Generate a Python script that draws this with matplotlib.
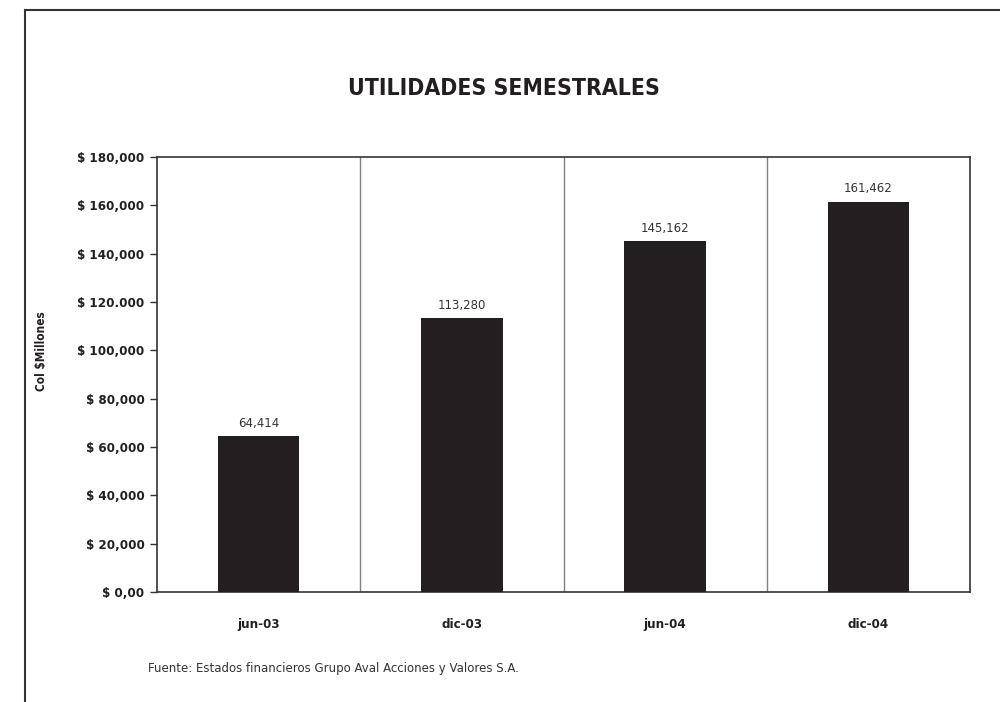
import numpy as np
import matplotlib
matplotlib.use('Agg')
import matplotlib.pyplot as plt
from matplotlib.lines import Line2D

# data
periodos = ['jun-03', 'dic-03', 'jun-04', 'dic-04']
utilidades = [64414, 113280, 145162, 161462]
etiquetas_y = ['$ 0,00', '$ 20,000', '$ 40,000', '$ 60,000', '$ 80,000', '$ 100,000',
               '$ 120.000', '$ 140,000', '$ 160,000', '$ 180,000']
valores_y = [0, 20000, 40000, 60000, 80000, 100000, 120000, 140000, 160000, 180000]

narrow = dict(family='DejaVu Sans', fontstretch='condensed', fontweight='bold')
txt = '#231f20'

fig = plt.figure(figsize=(10, 7.02), dpi=100)
ax = fig.add_axes([0.157, 0.1567, 0.813, 0.6197])

x = np.arange(len(periodos))
ax.bar(x, utilidades, width=0.4, color='#231f20', zorder=3)
for xi, v in zip(x, utilidades):
    ax.text(xi, v + 2600, f'{v:,}', ha='center', va='bottom', fontsize=8.5,
            family='DejaVu Sans', color='#333333')

# vertical separators between categories
for xs in x[:-1] + 0.5:
    ax.axvline(xs, color='#808080', lw=1.0, zorder=1)

ax.set_xlim(-0.5, len(periodos) - 0.5)
ax.set_ylim(0, 180000)
ax.set_yticks(valores_y)
ax.set_yticklabels(etiquetas_y, fontsize=9.5, color=txt, **narrow)
ax.set_xticks(x)
ax.set_xticklabels(periodos, fontsize=9.5, color=txt, **narrow)
ax.tick_params(axis='y', length=5, width=1, color='#333333', pad=4)
ax.tick_params(axis='x', length=0, pad=19)
for s in ax.spines.values():
    s.set_color('#333333')
    s.set_linewidth(1.2)

fig.text(0.042, 0.5, 'Col $Millones', rotation=90, ha='center', va='center',
         fontsize=8.5, color=txt, **narrow)

fig.text(0.504, 0.8746, 'UTILIDADES SEMESTRALES', ha='center', va='center',
         fontsize=16.5, color=txt, **narrow)
fig.text(0.148, 0.048, 'Fuente: Estados financieros Grupo Aval Acciones y Valores S.A.',
         ha='left', va='center', family='DejaVu Sans', fontsize=8.5, color='#333333')

# outer frame (only left and top edges visible)
fig.add_artist(Line2D([0.0245, 0.0245], [0, 0.986], transform=fig.transFigure,
                      color='#333333', lw=1.5))
fig.add_artist(Line2D([0.0245, 1.0], [0.986, 0.986], transform=fig.transFigure,
                      color='#333333', lw=1.5))

fig.savefig('out.png', dpi=100)
